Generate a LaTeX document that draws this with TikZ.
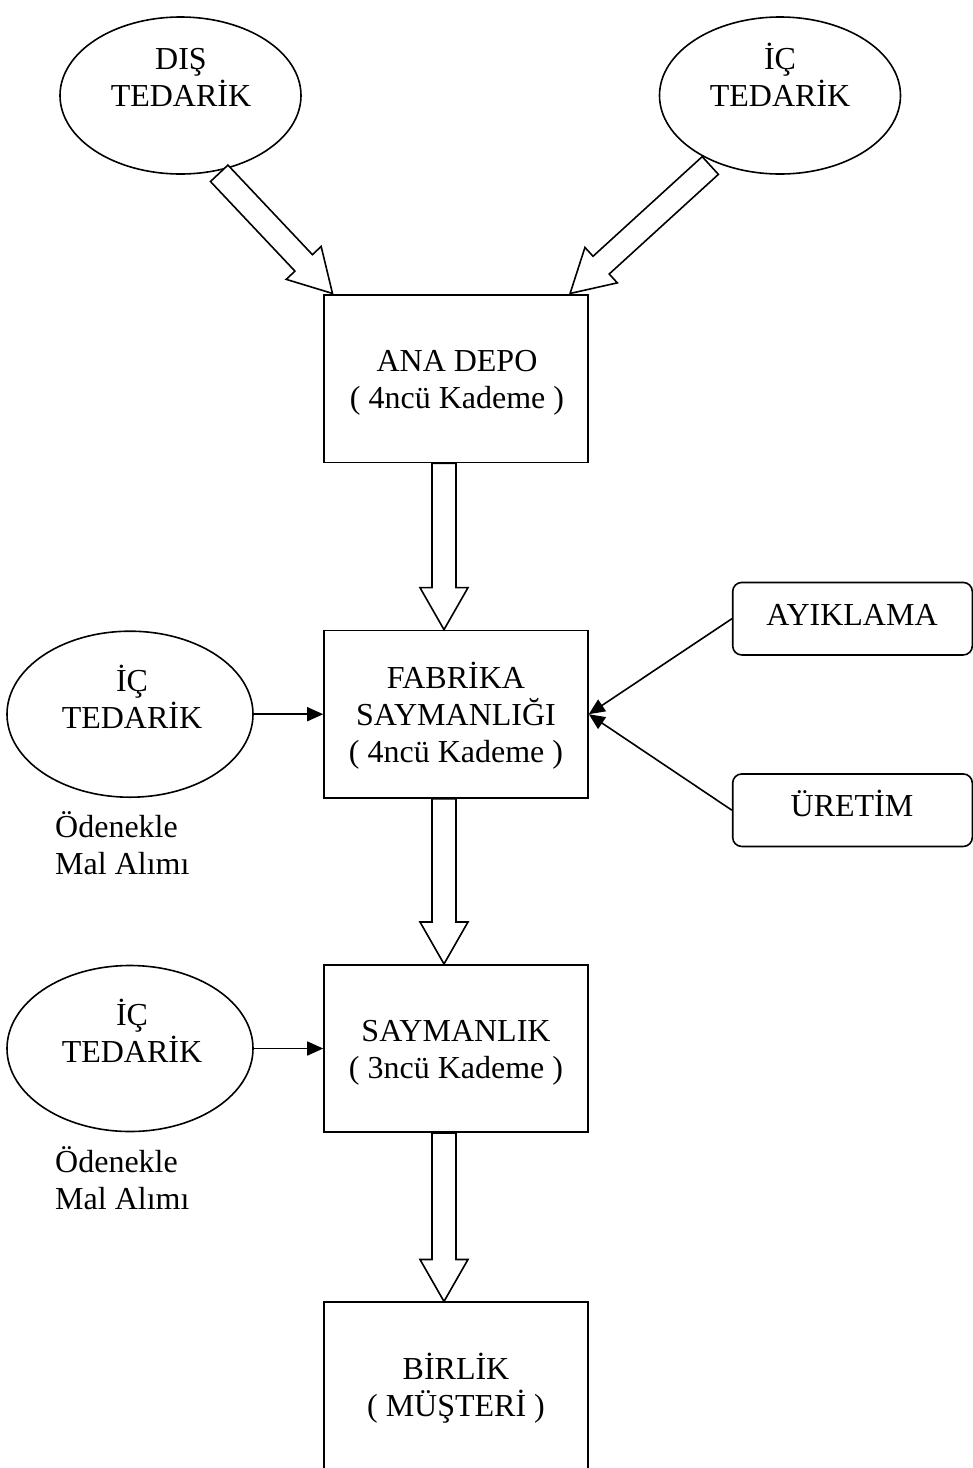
\documentclass[tikz,border=0pt]{standalone}
\usepackage{fontspec}
\setmainfont{Liberation Serif}
\usetikzlibrary{calc,shapes.geometric,arrows.meta}

\tikzset{
  outline/.style={draw=black, line width=1.6pt},
  bigbox/.style={outline, rectangle, minimum width=264pt, minimum height=167.5pt, inner sep=0pt},
  oval/.style={outline, ellipse, inner sep=0pt},
  topoval/.style={oval, minimum width=241pt, minimum height=157pt},
  sideoval/.style={oval, minimum width=246pt, minimum height=166pt},
  sidebox/.style={outline, rectangle, rounded corners=9pt, minimum width=239.6pt, minimum height=72.5pt, inner sep=0pt},
  % multi-line captions are placed by the baseline of their last line
  caption/.style={font=\fontsize{32}{37}\selectfont, inner sep=0pt, align=center, anchor=base},
  note/.style={font=\fontsize{32}{37}\selectfont, inner sep=0pt, align=left, anchor=base west},
  feed/.style={line width=1.6pt, -{Triangle[length=16pt,width=14pt]}},
  blockarrow/.style={line width=1.6pt, fill=white, line join=miter},
}

% hollow block arrow from tail centre #1 to tip #2, helper prefix #3
\newcommand{\hollowarrow}[3]{%
  \coordinate (#3h) at ($(#2)!42pt!(#1)$);
  \draw[blockarrow]
    ($(#1)!12pt!90:(#2)$) -- ($(#3h)!12pt!90:(#2)$) -- ($(#3h)!24pt!90:(#2)$)
    -- (#2)
    -- ($(#3h)!24pt!-90:(#2)$) -- ($(#3h)!12pt!-90:(#2)$) -- ($(#1)!12pt!-90:(#2)$)
    -- cycle;
}

\begin{document}
\begin{tikzpicture}[x=1pt,y=-1pt]
\useasboundingbox (0,0) rectangle (973,1468);

% suppliers at the top
\node[topoval] (dis) at (180.5,95.5) {};
\node[caption] (dis-t) at (181,106) {DIŞ\\TEDARİK};
\node[topoval] (icust) at (780,95.5) {};
\node[caption] (icust-t) at (780,106) {İÇ\\TEDARİK};

% main chain
\node[bigbox] (anadepo) at (456,378.7) {};
\node[caption] (anadepo-t) at (457,408) {ANA DEPO\\( 4ncü Kademe )};
\node[bigbox] (fabrika) at (456,714.2) {};
\node[caption] (fabrika-t) at (456,762) {FABRİKA\\SAYMANLIĞI\\( 4ncü Kademe )};
\node[bigbox] (sayman) at (456,1048.5) {};
\node[caption] (sayman-t) at (456,1078) {SAYMANLIK\\( 3ncü Kademe )};
\node[bigbox] (birlik) at (456,1386) {};
\node[caption] (birlik-t) at (456,1416.7) {BİRLİK\\( MÜŞTERİ )};

% side inputs
\node[sidebox] (ayik) at (852.5,618.7) {};
\node[caption] (ayik-t) at (852,625) {AYIKLAMA};
\node[sidebox] (uret) at (852.5,810.2) {};
\node[caption] (uret-t) at (852,816.7) {ÜRETİM};

\node[sideoval] (ic1) at (130,714.2) {};
\node[caption] (ic1-t) at (132,728) {İÇ\\TEDARİK};
\node[note] (ode1) at (55,874) {Ödenekle\\Mal Alımı};
\node[sideoval] (ic2) at (130,1048.5) {};
\node[caption] (ic2-t) at (132,1062.5) {İÇ\\TEDARİK};
\node[note] (ode2) at (55,1209) {Ödenekle\\Mal Alımı};

% thin connectors
\draw[feed] (ic1.east) -- (fabrika.west);
\draw[feed] (ic2.east) -- (sayman.west);
\draw[feed] (ayik.west) -- (fabrika.east);
\draw[feed] (uret.west) -- (fabrika.east);

% hollow block arrows
\coordinate (d1a) at ($(dis.center)+(38.7,77.8)$);
\coordinate (d1b) at ($(anadepo.north west)+(9.3,-0.7)$);
\hollowarrow{d1a}{d1b}{p1}
\coordinate (d2a) at ($(icust.center)+(-69.7,70)$);
\coordinate (d2b) at ($(anadepo.north east)+(-18.7,-0.7)$);
\hollowarrow{d2a}{d2b}{p2}

\coordinate (v1a) at ($(anadepo.south)+(-12,0)$);
\coordinate (v1b) at ($(fabrika.north)+(-12,0)$);
\hollowarrow{v1a}{v1b}{p3}
\coordinate (v2a) at ($(fabrika.south)+(-12,0)$);
\coordinate (v2b) at ($(sayman.north)+(-12,0)$);
\hollowarrow{v2a}{v2b}{p4}
\coordinate (v3a) at ($(sayman.south)+(-12,0)$);
\coordinate (v3b) at ($(birlik.north)+(-12,0)$);
\hollowarrow{v3a}{v3b}{p5}
\end{tikzpicture}
\end{document}
